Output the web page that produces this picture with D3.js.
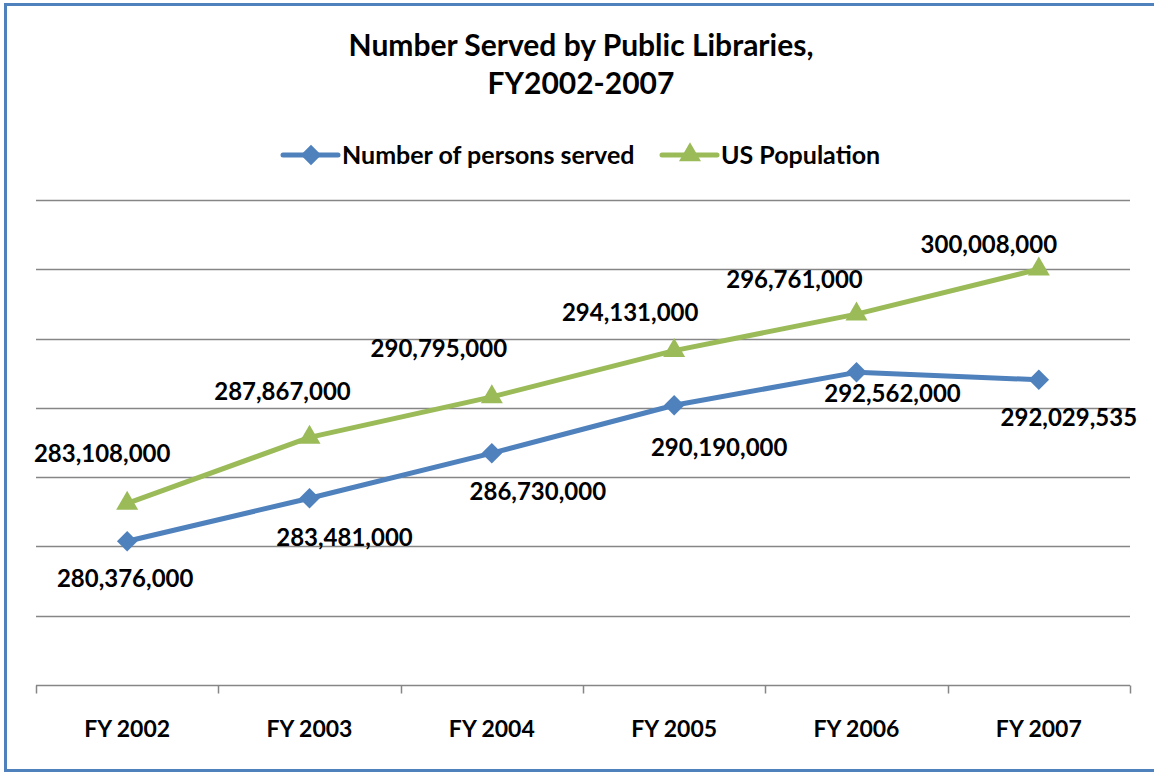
<!DOCTYPE html>
<html lang="en">
  <head>
    <meta charset="UTF-8" />
    <title>Number Served by Public Libraries</title>
    <style>
      body { margin: 0; background: #fff; }
      svg { display: block; font-family: Lato, "Open Sans", sans-serif; font-weight: bold; }
    </style>
  </head>
  <body>
    <svg width="1154" height="772"></svg>
    <script src="https://cdnjs.cloudflare.com/ajax/libs/d3/7.8.5/d3.min.js"></script>
    <script>
      var years = ["FY 2002", "FY 2003", "FY 2004", "FY 2005", "FY 2006", "FY 2007"];
      var personsServed = [280376000, 283481000, 286730000, 290190000, 292562000, 292029535];
      var usPopulation = [283108000, 287867000, 290795000, 294131000, 296761000, 300008000];
      var yTicks = [270000000, 275000000, 280000000, 285000000, 290000000, 295000000, 300000000, 305000000];

      // hand placed label offsets, like the original
      var servedLabelDx = [-2, 35, 46, 45, 36, 30];
      var servedLabelDy = [46, 48, 47, 51, 30, 46];
      var popLabelDx = [-25, -27, -53, -44, -62, -50];
      var popLabelDy = [-41, -37, -40, -30, -26, -16];

      var blue = "#4f81bd", green = "#9bbb59", grid = "#868686";

      var svg = d3.select("svg"),
        width = +svg.attr("width"),
        height = +svg.attr("height");

      var margin = { left: 36, right: 24, top: 200, bottom: 87 };

      var x = d3
        .scaleBand()
        .domain(years)
        .range([margin.left, width - margin.right]);

      var y = d3
        .scaleLinear()
        .domain([270000000, 305000000])
        .range([height - margin.bottom, margin.top]);

      // frame
      svg
        .append("rect")
        .attr("x", 5.5)
        .attr("y", 4.5)
        .attr("width", 1160)
        .attr("height", 766)
        .attr("fill", "none")
        .attr("stroke", blue)
        .attr("stroke-width", 3);

      // title
      var title = svg.append("text").attr("text-anchor", "middle").attr("font-size", 30).attr("fill", "#000");
      title.append("tspan").attr("x", 581).attr("y", 56).text("Number Served by Public Libraries,");
      title.append("tspan").attr("x", 581).attr("y", 94).text("FY2002-2007");

      // gridlines
      svg
        .append("g")
        .selectAll("line")
        .data(yTicks.slice(1))
        .enter()
        .append("line")
        .attr("x1", margin.left)
        .attr("x2", width - margin.right)
        .attr("y1", function (d) { return Math.round(y(d)) + 0.5; })
        .attr("y2", function (d) { return Math.round(y(d)) + 0.5; })
        .attr("stroke", grid)
        .attr("stroke-width", 1.5);

      // x axis
      var xAxis = svg
        .append("g")
        .attr("transform", "translate(0," + (Math.round(y(270000000)) + 0.5) + ")");
      xAxis
        .append("line")
        .attr("x1", margin.left)
        .attr("x2", width - margin.right)
        .attr("stroke", grid)
        .attr("stroke-width", 1.5);
      var tickXs = years.map(function (d) { return x(d); }).concat([x.range()[1]]);
      xAxis
        .selectAll(".tick")
        .data(tickXs)
        .enter()
        .append("line")
        .attr("x1", function (d) { return Math.round(d) + 0.5; })
        .attr("x2", function (d) { return Math.round(d) + 0.5; })
        .attr("y1", 0)
        .attr("y2", 8)
        .attr("stroke", grid)
        .attr("stroke-width", 1.5);
      xAxis
        .selectAll(".lbl")
        .data(years)
        .enter()
        .append("text")
        .attr("x", function (d) { return x(d) + x.bandwidth() / 2; })
        .attr("y", 51)
        .attr("text-anchor", "middle")
        .attr("font-size", 23)
        .text(function (d) { return d; });

      var cx = function (i) { return x(years[i]) + x.bandwidth() / 2; };
      var line = d3
        .line()
        .x(function (d, i) { return cx(i); })
        .y(function (d) { return y(d); });

      // excel style square diamond
      var diamond = d3.symbol().type(d3.symbolSquare).size(210);
      var triangle = d3.symbol().type(d3.symbolTriangle).size(210);

      function markerTransform(sym, px, py) {
        if (sym === diamond) return "translate(" + px + "," + py + ") rotate(45)";
        return "translate(" + px + "," + py + ")";
      }

      function drawSeries(values, color, sym, dxs, dys) {
        var g = svg.append("g");
        g.append("path")
          .datum(values)
          .attr("d", line)
          .attr("fill", "none")
          .attr("stroke", color)
          .attr("stroke-width", 5)
          .attr("stroke-linejoin", "round");
        g.selectAll(".pt")
          .data(values)
          .enter()
          .append("path")
          .attr("d", sym)
          .attr("fill", color)
          .attr("transform", function (d, i) { return markerTransform(sym, cx(i), y(d)); });
        g.selectAll(".lbl")
          .data(values)
          .enter()
          .append("text")
          .attr("x", function (d, i) { return cx(i) + dxs[i]; })
          .attr("y", function (d, i) { return y(d) + dys[i]; })
          .attr("text-anchor", "middle")
          .attr("font-size", 24)
          .text(function (d) { return d3.format(",")(d); });
      }

      drawSeries(usPopulation, green, triangle, popLabelDx, popLabelDy);
      drawSeries(personsServed, blue, diamond, servedLabelDx, servedLabelDy);

      // legend
      var legend = svg.append("g").attr("transform", "translate(0,155)");
      var items = [
        { name: "Number of persons served", color: blue, sym: diamond, x0: 283 },
        { name: "US Population", color: green, sym: triangle, x0: 662 },
      ];
      items.forEach(function (it) {
        legend
          .append("line")
          .attr("x1", it.x0)
          .attr("x2", it.x0 + 55)
          .attr("stroke", it.color)
          .attr("stroke-width", 5)
          .attr("stroke-linecap", "round");
        legend
          .append("path")
          .attr("d", it.sym)
          .attr("fill", it.color)
          .attr("transform", markerTransform(it.sym, it.x0 + 28, 0));
        legend
          .append("text")
          .attr("x", it.x0 + 59)
          .attr("y", 9)
          .attr("font-size", 25)
          .text(it.name);
      });
    </script>
  </body>
</html>
